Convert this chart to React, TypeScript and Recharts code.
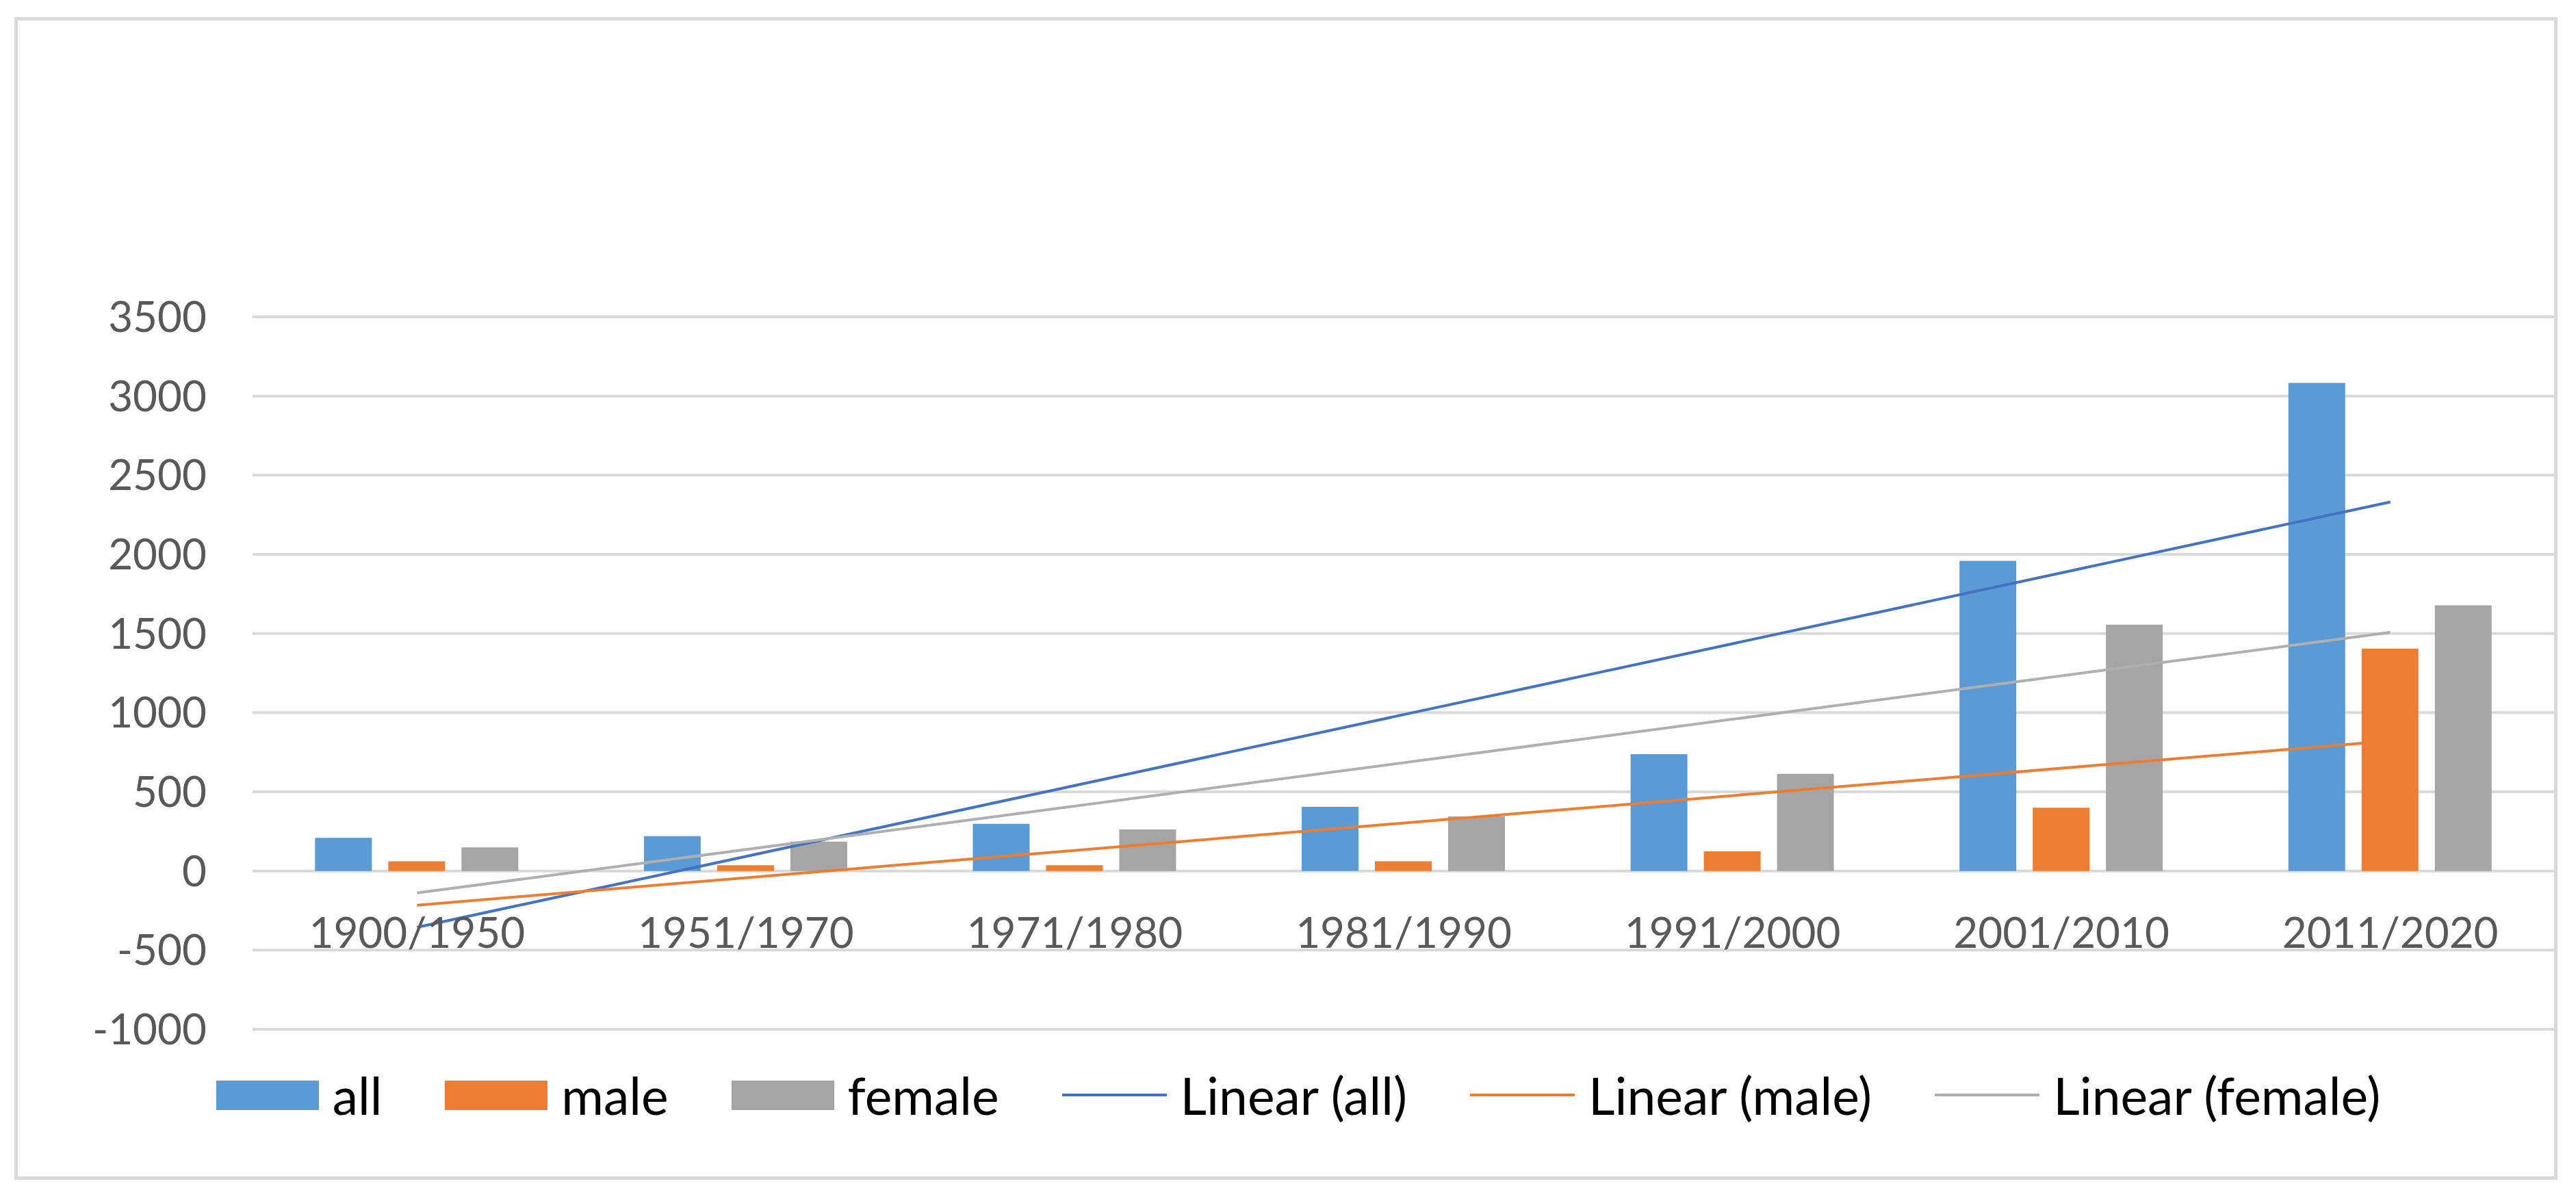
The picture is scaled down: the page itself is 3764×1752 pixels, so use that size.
import React from 'react';
import { ComposedChart, Bar, Line, XAxis, YAxis, CartesianGrid, Legend } from 'recharts';

const categories = ['1900/1950', '1951/1970', '1971/1980', '1981/1990', '1991/2000', '2001/2010', '2011/2020'];
const allValues = [209, 220, 298, 405, 738, 1959, 3083];
const maleValues = [61, 36, 36, 61, 124, 399, 1405];
const femaleValues = [149, 185, 262, 344, 614, 1556, 1678];
// linear trendline values at the first and last category
const trendAll = [-356, 2331];
const trendMale = [-216, 822];
const trendFemale = [-139, 1507];
const yTicks = [-1000, -500, 0, 500, 1000, 1500, 2000, 2500, 3000, 3500];
const legendOrder = ['all', 'male', 'female', 'Linear (all)', 'Linear (male)', 'Linear (female)'];

const last = categories.length - 1;
const endPoint = (arr: number[], i: number) => (i === 0 ? arr[0] : i === last ? arr[1] : null);

const data = categories.map((c, i) => ({
  category: c,
  all: allValues[i],
  male: maleValues[i],
  female: femaleValues[i],
  linAll: endPoint(trendAll, i),
  linMale: endPoint(trendMale, i),
  linFemale: endPoint(trendFemale, i),
}));

const W = 3764;
const H = 1752;
const FONT = 'Lato, "Open Sans", sans-serif';
const PLOT_TOP = 463;
const PLOT_BOTTOM = 1504;
const X_AXIS_H = 30;
// label baseline sits below the zero line
const LABEL_SHIFT = PLOT_BOTTOM - 1385;

const XTick = (props: any) => {
  const { x, y, payload } = props;
  return (
    <text x={x} y={y - LABEL_SHIFT} textAnchor="middle" fill="#595959" fontSize={62} fontFamily={FONT}>
      {payload.value}
    </text>
  );
};

const renderLegend = (props: any) => {
  const raw = props.payload || [];
  const payload = legendOrder
    .map((name) => raw.find((e: any) => e.value === name))
    .filter(Boolean);
  return (
    <div
      style={{
        display: 'flex',
        justifyContent: 'center',
        alignItems: 'center',
        paddingLeft: 30,
        height: 80,
        fontFamily: FONT,
        fontSize: 75,
        color: '#000',
      }}
    >
      {payload.map((entry: any, idx: number) => (
        <div
          key={idx}
          style={{ display: 'flex', alignItems: 'center', marginRight: idx < payload.length - 1 ? 92 : 0 }}
        >
          {entry.type === 'line' ? (
            <div style={{ width: 153, height: 4, background: entry.color }} />
          ) : (
            <div style={{ width: 150, height: 43, background: entry.color }} />
          )}
          <span style={{ marginLeft: 20, lineHeight: '80px', whiteSpace: 'nowrap' }}>{entry.value}</span>
        </div>
      ))}
    </div>
  );
};

export default function App() {
  return (
    <div style={{ position: 'absolute', left: 0, top: 0, width: W, height: H, background: '#fff', overflow: 'hidden' }}>
      <div
        style={{
          position: 'absolute',
          left: 21,
          top: 25,
          width: 3737 - 21,
          height: 1724 - 25,
          border: '5px solid #D9D9D9',
          boxSizing: 'border-box',
        }}
      />
      <div style={{ position: 'absolute', left: 0, top: 0 }}>
        <ComposedChart
          width={W}
          height={H}
          data={data}
          margin={{ top: PLOT_TOP, right: 31, bottom: H - PLOT_BOTTOM - X_AXIS_H, left: 0 }}
          barCategoryGap="19%"
          barGap={24}
        >
          <CartesianGrid horizontal vertical={false} stroke="#D9D9D9" strokeWidth={4} />
          <XAxis
            dataKey="category"
            axisLine={false}
            tickLine={false}
            tickSize={0}
            tickMargin={0}
            height={X_AXIS_H}
            interval={0}
            tick={<XTick />}
          />
          <YAxis
            width={369}
            domain={[-1000, 3500]}
            ticks={yTicks}
            interval={0}
            axisLine={false}
            tickLine={false}
            tickSize={0}
            tickMargin={67}
            tick={{ fill: '#595959', fontSize: 62, fontFamily: FONT }}
          />
          <Bar dataKey="all" name="all" fill="#5B9BD5" isAnimationActive={false} />
          <Bar dataKey="male" name="male" fill="#ED7D31" isAnimationActive={false} />
          <Bar dataKey="female" name="female" fill="#A5A5A5" isAnimationActive={false} />
          <Line
            dataKey="linAll"
            name="Linear (all)"
            stroke="#4472C4"
            strokeWidth={4}
            dot={false}
            activeDot={false}
            connectNulls
            legendType="line"
            isAnimationActive={false}
          />
          <Line
            dataKey="linMale"
            name="Linear (male)"
            stroke="#ED7D31"
            strokeWidth={4}
            dot={false}
            activeDot={false}
            connectNulls
            legendType="line"
            isAnimationActive={false}
          />
          <Line
            dataKey="linFemale"
            name="Linear (female)"
            stroke="#AFAFAF"
            strokeWidth={4}
            dot={false}
            activeDot={false}
            connectNulls
            legendType="line"
            isAnimationActive={false}
          />
          <Legend
            verticalAlign="middle"
            align="center"
            width={W}
            wrapperStyle={{ top: 1560, left: 0, width: W, height: 80 }}
            content={renderLegend}
          />
        </ComposedChart>
      </div>
    </div>
  );
}
